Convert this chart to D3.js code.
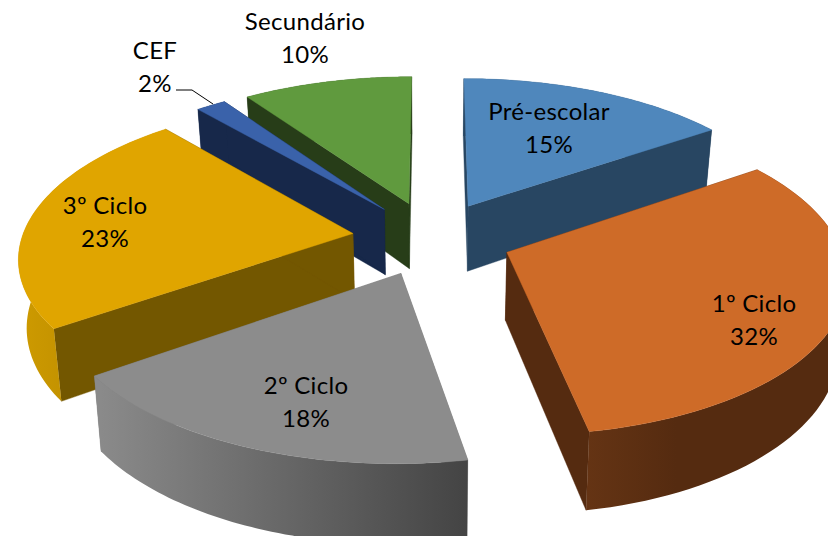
<!DOCTYPE html>
<html><head><meta charset="utf-8">
<script src="https://cdn.jsdelivr.net/npm/d3@7/dist/d3.min.js"></script>
<style>html,body{margin:0;padding:0;background:#fff;overflow:hidden}svg{display:block}text{font-family:Lato,"Open Sans",sans-serif;font-size:24px;letter-spacing:.3px;fill:#000;text-anchor:middle}</style>
</head><body><svg id="c" width="828" height="536"></svg>
<script>
const categories = ["Pré-escolar","1º Ciclo","2º Ciclo","3º Ciclo","CEF","Secundário"];
const values = [15.4,31.7,18.1,23.49,1.7,9.61];

// styles and layout, apart from the data
const topColors  = ["#4F87BC","#CE6B28","#8C8C8C","#E0A500","#3A62AA","#609A3E"];
const wallColors = ["#284662","#552B10","#777777","#735700","#17284A","#273D18"];
const rimStart   = ["#284662","#653414","#8A8A8A","#CC9900","#17284A","#273D18"];
const rimEnd     = ["#284662","#552B10","#444444","#C49300","#17284A","#273D18"];
const labelPos   = [[549,120],[754,312],[306,394],[105,214],[155,59],[305,30]];
const order = [5,4,0,3,1,2]; // painter's order, back to front
const cx=432, cy=238, tilt=0.463, persp=2400, R=331, explode=80, depth=67, taper=0.02;

const svg=d3.select("#c"), defs=svg.append("defs");
const pie=d3.pie().sort(null).value(d=>d)(values);
const project=(u,v,z)=>{const w=persp/(persp-v);
  return [cx+u*w*(1-taper*z/depth), cy+tilt*v*w+z*w];};
const line=d3.line();

order.forEach(i=>{
  const a=pie[i], mid=(a.startAngle+a.endAngle)/2;
  const ox=explode*Math.sin(mid), oy=-explode*Math.cos(mid);
  const P=(t,r,z)=>project(ox+r*Math.sin(t),oy-r*Math.cos(t),z);
  const ts=d3.range(0,61).map(k=>d3.interpolateNumber(a.startAngle,a.endAngle)(k/60));
  const g=svg.append("g");
  const id="rim"+i;
  const xs=ts.map(t=>P(t,R,depth)[0]);
  const vis=ts.filter(t=>Math.cos(t)<0.15).map(t=>P(t,R,depth)[0]);
  const ext=d3.extent(vis.length?vis:xs);
  const lg=defs.append("linearGradient").attr("id",id).attr("gradientUnits","userSpaceOnUse")
    .attr("x1",ext[0]).attr("x2",i==1?ext[0]+90:ext[1]).attr("y1",0).attr("y2",0);
  lg.append("stop").attr("offset",0).attr("stop-color",rimStart[i]);
  lg.append("stop").attr("offset",1).attr("stop-color",rimEnd[i]);
  const wall=(t)=>[P(t,0,0),P(t,R,0),P(t,R,depth),P(t,0,depth)];
  [a.startAngle,a.endAngle].forEach(t=>{
    g.append("path").attr("d",line(wall(t))+"Z").attr("fill",wallColors[i]).attr("stroke",wallColors[i]).attr("stroke-width",.4);
  });
  const rim=ts.map(t=>P(t,R,0)).concat(ts.slice().reverse().map(t=>P(t,R,depth)));
  g.append("path").attr("d",line(rim)+"Z").attr("fill",`url(#${id})`);
  const top=[P(0,0,0)].concat(ts.map(t=>P(t,R,0)));
  g.append("path").attr("d",line(top)+"Z").attr("fill",topColors[i]).attr("stroke",topColors[i]).attr("stroke-width",.4);
});

// CEF leader line
svg.append("path").attr("d",line([[176,90],[192,90],[213,104]])).attr("fill","none").attr("stroke","#000").attr("stroke-width",1);

categories.forEach((c,i)=>{
  const [x,y]=labelPos[i];
  svg.append("text").attr("x",x).attr("y",y).text(c);
  svg.append("text").attr("x",x).attr("y",y+33).text(d3.format(".0f")(values[i])+"%");
});
</script></body></html>
